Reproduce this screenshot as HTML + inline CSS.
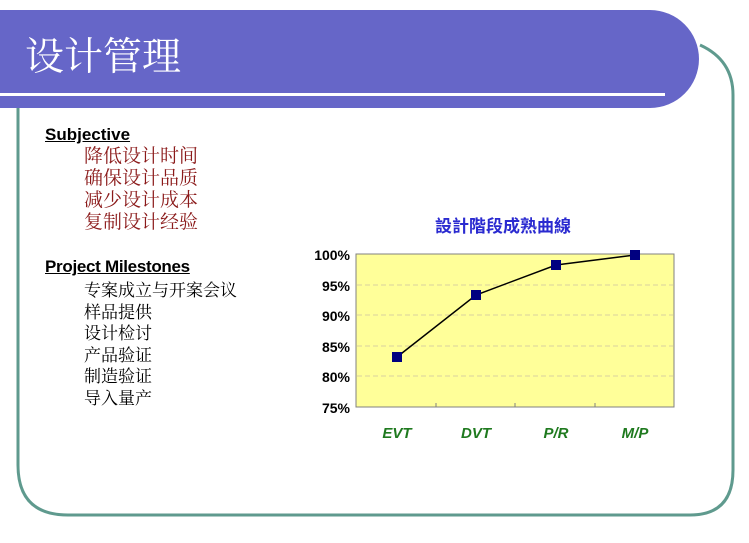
<!DOCTYPE html>
<html><head><meta charset="utf-8"><style>
body{margin:0;width:749px;height:543px;background:#fff;position:relative;overflow:hidden;font-family:"Liberation Sans","Noto Sans CJK SC",sans-serif}
.a{position:absolute;white-space:nowrap}
.cn{font-family:"Noto Serif CJK SC",serif}
</style></head><body>
<svg class="a" style="left:0;top:0" width="749" height="543">
<path d="M18 108 V465 Q18 515 68 515 H690 Q733 515 733 470 V95 Q733 60 700 45" fill="none" stroke="#5f9a8e" stroke-width="3"/>
<path d="M0 10 H650 A49 49 0 0 1 650 108 H0 Z" fill="#6666c8"/>
<rect x="0" y="93" width="665" height="3" fill="#fff"/>
<rect x="356" y="254" width="318" height="153" fill="#ffff99" stroke="#808080" stroke-width="1"/>
<g stroke="#d8d0a0" stroke-dasharray="5,3" stroke-width="1">
<line x1="357" x2="673" y1="285" y2="285"/><line x1="357" x2="673" y1="315" y2="315"/><line x1="357" x2="673" y1="346" y2="346"/><line x1="357" x2="673" y1="376" y2="376"/></g>
<g stroke="#808080"><line x1="436" x2="436" y1="407" y2="403"/><line x1="515" x2="515" y1="407" y2="403"/><line x1="595" x2="595" y1="407" y2="403"/></g>
<polyline points="397,357 476,295 556,265 635,255" fill="none" stroke="#000" stroke-width="1.5"/>
<g fill="#000080"><rect x="392" y="352" width="10" height="10"/><rect x="471" y="290" width="10" height="10"/><rect x="551" y="260" width="10" height="10"/><rect x="630" y="250" width="10" height="10"/></g>
<g font-family="Liberation Sans" font-weight="bold" font-size="14" text-anchor="end" fill="#000">
<text x="350" y="260">100%</text><text x="350" y="291">95%</text><text x="350" y="321">90%</text><text x="350" y="352">85%</text><text x="350" y="382">80%</text><text x="350" y="413">75%</text></g>
<g font-family="Liberation Sans" font-weight="bold" font-style="italic" font-size="15" text-anchor="middle" fill="#1f7a1f">
<text x="397" y="438">EVT</text><text x="476" y="438">DVT</text><text x="556" y="438">P/R</text><text x="635" y="438">M/P</text></g>
<text x="503" y="232" text-anchor="middle" font-family="Noto Sans CJK TC,sans-serif" font-weight="bold" font-size="17" fill="#2a2ad0">設計階段成熟曲線</text>
</svg>
<div class="a cn" style="left:25px;top:29px;font-size:39px;color:#fff;line-height:50px">设计管理</div>
<div class="a" style="left:45px;top:125px;font-size:17px;font-weight:bold;text-decoration:underline">Subjective</div>
<div class="a cn" style="left:84px;top:144px;font-size:19px;line-height:22px;color:#8b1a1a">降低设计时间<br>确保设计品质<br>减少设计成本<br>复制设计经验</div>
<div class="a" style="left:45px;top:257px;font-size:17px;font-weight:bold;text-decoration:underline;letter-spacing:-0.3px">Project Milestones</div>
<div class="a cn" style="left:84px;top:278px;font-size:17px;line-height:21.5px;color:#000">专案成立与开案会议<br>样品提供<br>设计检讨<br>产品验证<br>制造验证<br>导入量产</div>
</body></html>
